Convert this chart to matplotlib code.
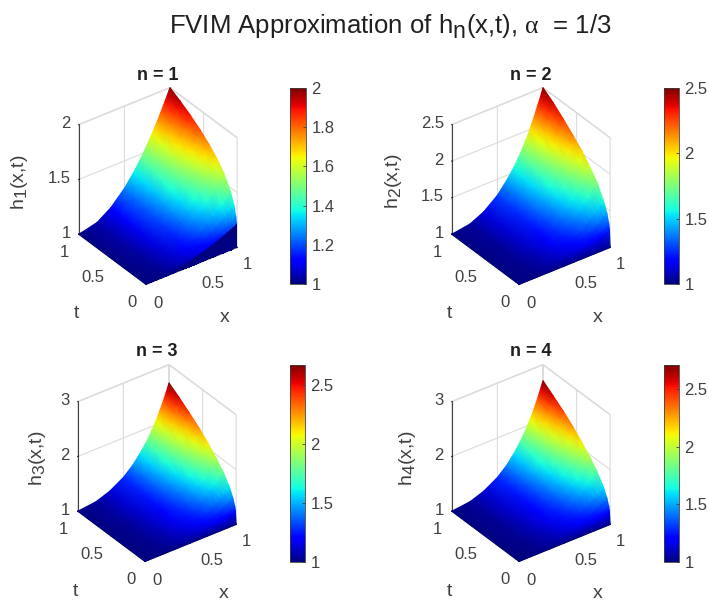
import numpy as np
import matplotlib
matplotlib.use("Agg")
import matplotlib.pyplot as plt
from matplotlib import _mathtext
from matplotlib.cm import ScalarMappable
from matplotlib.colors import Normalize
from mpl_toolkits.mplot3d import proj3d

# values, rows are t, columns are x
x_vals = [0, 0.2, 0.35, 0.5, 0.6, 0.68, 0.75, 0.81, 0.86, 0.9, 0.94, 0.97, 1]
t_vals = [0, 0.01, 0.02, 0.05, 0.1, 0.2, 0.3, 0.42, 0.55, 0.7, 0.85, 1]

h1 = [
    [1, 1, 1, 1, 1, 1, 1, 1, 1, 1, 1, 1, 1],
    [1, 1.009, 1.026, 1.054, 1.077, 1.099, 1.121, 1.141, 1.159, 1.174, 1.190, 1.202, 1.215],
    [1, 1.011, 1.033, 1.068, 1.098, 1.125, 1.152, 1.178, 1.201, 1.220, 1.240, 1.255, 1.271],
    [1, 1.015, 1.045, 1.092, 1.132, 1.170, 1.207, 1.241, 1.272, 1.298, 1.325, 1.346, 1.368],
    [1, 1.019, 1.057, 1.116, 1.167, 1.215, 1.261, 1.304, 1.343, 1.376, 1.410, 1.437, 1.464],
    [1, 1.023, 1.072, 1.146, 1.211, 1.271, 1.329, 1.384, 1.433, 1.474, 1.517, 1.550, 1.585],
    [1, 1.027, 1.082, 1.167, 1.241, 1.309, 1.376, 1.439, 1.495, 1.542, 1.591, 1.630, 1.669],
    [1, 1.030, 1.092, 1.187, 1.270, 1.346, 1.421, 1.491, 1.554, 1.607, 1.662, 1.705, 1.749],
    [1, 1.033, 1.100, 1.205, 1.295, 1.379, 1.461, 1.537, 1.606, 1.663, 1.724, 1.771, 1.819],
    [1, 1.036, 1.109, 1.222, 1.320, 1.411, 1.500, 1.583, 1.657, 1.719, 1.785, 1.836, 1.888],
    [1, 1.038, 1.116, 1.237, 1.341, 1.438, 1.533, 1.621, 1.701, 1.767, 1.837, 1.891, 1.947],
    [1, 1.040, 1.123, 1.250, 1.360, 1.462, 1.563, 1.656, 1.740, 1.810, 1.884, 1.941, 2.0],
]
h2 = [
    [1, 1, 1, 1, 1, 1, 1, 1, 1, 1, 1, 1, 1],
    [1, 1.01, 1.03, 1.06, 1.08, 1.10, 1.13, 1.15, 1.17, 1.19, 1.21, 1.22, 1.24],
    [1, 1.01, 1.03, 1.07, 1.10, 1.13, 1.16, 1.19, 1.22, 1.24, 1.27, 1.29, 1.31],
    [1, 1.02, 1.05, 1.10, 1.14, 1.18, 1.23, 1.27, 1.31, 1.34, 1.38, 1.41, 1.44],
    [1, 1.02, 1.06, 1.12, 1.18, 1.24, 1.30, 1.35, 1.40, 1.45, 1.49, 1.53, 1.57],
    [1, 1.02, 1.07, 1.16, 1.23, 1.31, 1.38, 1.46, 1.53, 1.59, 1.65, 1.70, 1.76],
    [1, 1.03, 1.09, 1.18, 1.27, 1.36, 1.45, 1.54, 1.62, 1.69, 1.77, 1.83, 1.89],
    [1, 1.03, 1.10, 1.21, 1.31, 1.41, 1.51, 1.61, 1.71, 1.79, 1.88, 1.95, 2.03],
    [1, 1.03, 1.11, 1.23, 1.34, 1.45, 1.57, 1.68, 1.79, 1.88, 1.99, 2.07, 2.15],
    [1, 1.04, 1.12, 1.25, 1.37, 1.50, 1.63, 1.75, 1.87, 1.98, 2.09, 2.19, 2.28],
    [1, 1.04, 1.12, 1.27, 1.40, 1.53, 1.68, 1.81, 1.95, 2.06, 2.19, 2.29, 2.40],
    [1, 1.04, 1.13, 1.28, 1.43, 1.57, 1.72, 1.87, 2.01, 2.14, 2.28, 2.38, 2.50],
]
h3 = [
    [1, 1, 1, 1, 1, 1, 1, 1, 1, 1, 1, 1, 1],
    [1, 1.01, 1.03, 1.06, 1.08, 1.10, 1.13, 1.15, 1.17, 1.19, 1.21, 1.22, 1.24],
    [1, 1.01, 1.03, 1.07, 1.10, 1.13, 1.16, 1.19, 1.22, 1.25, 1.27, 1.29, 1.31],
    [1, 1.02, 1.05, 1.10, 1.14, 1.19, 1.23, 1.27, 1.31, 1.35, 1.38, 1.41, 1.44],
    [1, 1.02, 1.06, 1.12, 1.18, 1.24, 1.30, 1.36, 1.41, 1.46, 1.51, 1.55, 1.59],
    [1, 1.02, 1.07, 1.16, 1.24, 1.31, 1.39, 1.47, 1.54, 1.60, 1.67, 1.73, 1.79],
    [1, 1.03, 1.09, 1.18, 1.27, 1.36, 1.46, 1.55, 1.64, 1.72, 1.80, 1.87, 1.94],
    [1, 1.03, 1.10, 1.21, 1.31, 1.41, 1.52, 1.63, 1.74, 1.83, 1.93, 2.01, 2.10],
    [1, 1.03, 1.11, 1.23, 1.34, 1.46, 1.58, 1.71, 1.83, 1.93, 2.05, 2.14, 2.25],
    [1, 1.04, 1.12, 1.25, 1.38, 1.51, 1.65, 1.79, 1.92, 2.04, 2.17, 2.28, 2.40],
    [1, 1.04, 1.12, 1.27, 1.41, 1.55, 1.70, 1.85, 2.00, 2.14, 2.29, 2.41, 2.54],
    [1, 1.04, 1.13, 1.28, 1.43, 1.59, 1.75, 1.92, 2.08, 2.23, 2.39, 2.52, 2.667],
]
h4 = [
    [1, 1, 1, 1, 1, 1, 1, 1, 1, 1, 1, 1, 1],
    [1, 1.01, 1.03, 1.06, 1.08, 1.10, 1.13, 1.15, 1.17, 1.19, 1.21, 1.22, 1.24],
    [1, 1.01, 1.03, 1.07, 1.10, 1.13, 1.16, 1.19, 1.22, 1.25, 1.27, 1.29, 1.31],
    [1, 1.02, 1.05, 1.10, 1.14, 1.19, 1.23, 1.27, 1.31, 1.35, 1.38, 1.41, 1.44],
    [1, 1.02, 1.06, 1.12, 1.18, 1.24, 1.30, 1.36, 1.41, 1.46, 1.51, 1.55, 1.59],
    [1, 1.02, 1.07, 1.16, 1.24, 1.31, 1.39, 1.47, 1.54, 1.61, 1.68, 1.73, 1.79],
    [1, 1.03, 1.09, 1.18, 1.27, 1.36, 1.46, 1.55, 1.64, 1.72, 1.81, 1.88, 1.95],
    [1, 1.03, 1.10, 1.21, 1.31, 1.41, 1.52, 1.63, 1.74, 1.83, 1.94, 2.02, 2.11],
    [1, 1.03, 1.11, 1.23, 1.34, 1.46, 1.59, 1.71, 1.83, 1.94, 2.06, 2.16, 2.27],
    [1, 1.04, 1.12, 1.25, 1.38, 1.51, 1.65, 1.79, 1.93, 2.05, 2.19, 2.30, 2.43],
    [1, 1.04, 1.12, 1.27, 1.41, 1.55, 1.70, 1.86, 2.01, 2.15, 2.31, 2.43, 2.57],
    [1, 1.04, 1.13, 1.28, 1.43, 1.59, 1.76, 1.93, 2.10, 2.25, 2.42, 2.56, 2.708],
]

surfaces = [h1, h2, h3, h4]
titles = ["n = 1", "n = 2", "n = 3", "n = 4"]
z_labels = [r"h$_{\mathrm{1}}$(x,t)", r"h$_{\mathrm{2}}$(x,t)", r"h$_{\mathrm{3}}$(x,t)", r"h$_{\mathrm{4}}$(x,t)"]
z_tops = [2, 2.5, 3, 3]
z_ticks = [[1, 1.5, 2], [1, 1.5, 2, 2.5], [1, 2, 3], [1, 2, 3]]
cbar_ticks = [[1, 1.2, 1.4, 1.6, 1.8, 2], [1, 1.5, 2, 2.5], [1, 1.5, 2, 2.5], [1, 1.5, 2, 2.5]]
axis_ticks = [0, 0.5, 1]

# layout in reference pixels: box centre, colorbar box, label spots, tick label offsets
W, H = 709, 604
centers = [(158, 186), (531, 186), (157, 463), (531, 463)]
cbar_boxes = [(290, 88, 16, 196), (664, 88, 15, 196), (290, 365, 15, 197), (664, 365, 15, 197)]
zlabel_xy = [(20, 182), (393, 181), (38, 458), (408, 458)]
x_offsets = [(12, -19), (21, -18), (10, -17)]
t_offsets = [(-14, -18), (-20, -18), (-14, -18)]
dark = "#404040"

plt.rcParams["font.family"] = ["Liberation Sans", "DejaVu Sans"]
plt.rcParams["mathtext.fontset"] = "custom"
plt.rcParams["mathtext.rm"] = "Liberation Sans"
plt.rcParams["mathtext.it"] = "Liberation Serif"
plt.rcParams["mathtext.bf"] = "Liberation Sans:bold"
plt.rcParams["font.size"] = 12
# MATLAB subscripts are bigger and sit lower than the mathtext default
_mathtext.SHRINK_FACTOR = 0.9
_mathtext.FontConstantsBase.sub1 = 0.42


def fx(px):
    return px / W


def fy(py):
    return 1 - py / H


def tick_text(over, M, point, text, offset, ha="center"):
    xs, ys, _ = proj3d.proj_transform(point[0], point[1], point[2], M)
    over.annotate(text, (xs, ys), xytext=offset, textcoords="offset pixels", ha=ha, va="center",
                  fontsize=12, color=dark, annotation_clip=False)


def draw_panel(fig, i):
    Z = np.array(surfaces[i], dtype=float)
    X, T = np.meshgrid(x_vals, t_vals)
    cx, cy = centers[i]
    size = 210
    left = cx - 0.5135 * size
    bottom = H - cy - 0.5135 * size
    rect = [left / W, bottom / H, size / W, size / H]
    ax = fig.add_axes(rect, projection="3d")
    ax.patch.set_alpha(0)
    ax.set_proj_type("ortho")
    ax.view_init(elev=33.4, azim=-126.4)
    ax.set_box_aspect((1, 1, 1.16), zoom=0.957)

    ax.set_xlim(0, 1)
    ax.set_ylim(0, 1)
    ax.set_zlim(1, z_tops[i])
    ax.set_xticks(axis_ticks, [""] * 3)
    ax.set_yticks(axis_ticks, [""] * 3)
    ax.set_zticks(z_ticks[i], [""] * len(z_ticks[i]))
    ax.zaxis.set_ticks_position("upper")
    for axis in (ax.xaxis, ax.yaxis, ax.zaxis):
        axis.set_pane_color((1, 1, 1, 1))
        axis.pane.set_edgecolor("#d8d8d8")
        axis.line.set_color(dark)
        axis.line.set_linewidth(0.8)
        axis._axinfo["grid"].update(color="#dcdcdc", linewidth=0.8)
        axis._axinfo["tick"].update(inward_factor=0.0, outward_factor=0.02)

    # surface goes through the 3D projection, then gets smooth colour like shading interp
    M = ax.get_proj()
    norm = Normalize(1, Z.max())
    xs, ys, _ = proj3d.proj_transform(X.ravel(), T.ravel(), Z.ravel(), M)
    xs = np.reshape(xs, Z.shape)
    ys = np.reshape(ys, Z.shape)
    over = fig.add_axes(rect)
    over.set_xlim(ax.viewLim.intervalx)
    over.set_ylim(ax.viewLim.intervaly)
    over.axis("off")
    if i == 0:
        # the first panel shows a hard dark wedge along t = 0
        over.pcolormesh(xs[:2], ys[:2], Z[:1, :-1], shading="flat", cmap="jet", norm=norm,
                        linewidth=0, antialiased=False)
        over.pcolormesh(xs[1:], ys[1:], Z[1:], shading="gouraud", cmap="jet", norm=norm)
    else:
        over.pcolormesh(xs, ys, Z, shading="gouraud", cmap="jet", norm=norm)

    for v, off in zip(axis_ticks, x_offsets):
        tick_text(over, M, (v, 0, 1), f"{v:g}", off)
    for v, off in zip(axis_ticks, t_offsets):
        tick_text(over, M, (0, 1 - v, 1), f"{1 - v:g}", off)
    for v in z_ticks[i]:
        tick_text(over, M, (0, 1, v), f"{v:g}", (-8, 1), ha="right")

    fig.text(fx(cx), fy(cy - 111), titles[i], ha="center", va="center", fontsize=13,
             fontweight="bold", color="#202020")
    fig.text(fx(zlabel_xy[i][0]), fy(zlabel_xy[i][1]), z_labels[i], rotation=90, ha="center",
             va="center", fontsize=14, color=dark)
    fig.text(fx(cx + 67), fy(cy + 131), "x", ha="center", va="center", fontsize=14, color=dark)
    fig.text(fx(cx - 82), fy(cy + 128), "t", ha="center", va="center", fontsize=14, color=dark)

    bx, by, bw, bh = cbar_boxes[i]
    cax = fig.add_axes([bx / W, 1 - (by + bh) / H, bw / W, bh / H])
    cb = fig.colorbar(ScalarMappable(norm=norm, cmap="jet"), cax=cax, ticks=cbar_ticks[i])
    cb.ax.set_yticklabels([f"{v:g}" for v in cbar_ticks[i]])
    cb.ax.tick_params(direction="in", length=2, width=0.6, labelsize=12, colors=dark, pad=4)
    cb.outline.set_edgecolor(dark)
    cb.outline.set_linewidth(0.6)


fig = plt.figure(figsize=(W / 100, H / 100), dpi=100)
for i in range(4):
    draw_panel(fig, i)
fig.text(fx(390), fy(27), r"FVIM Approximation of h$_{\mathrm{n}}$(x,t), $\alpha$  = 1/3",
         ha="center", va="center", fontsize=18.5, color="#202020")
fig.savefig("out.png", dpi=100)
